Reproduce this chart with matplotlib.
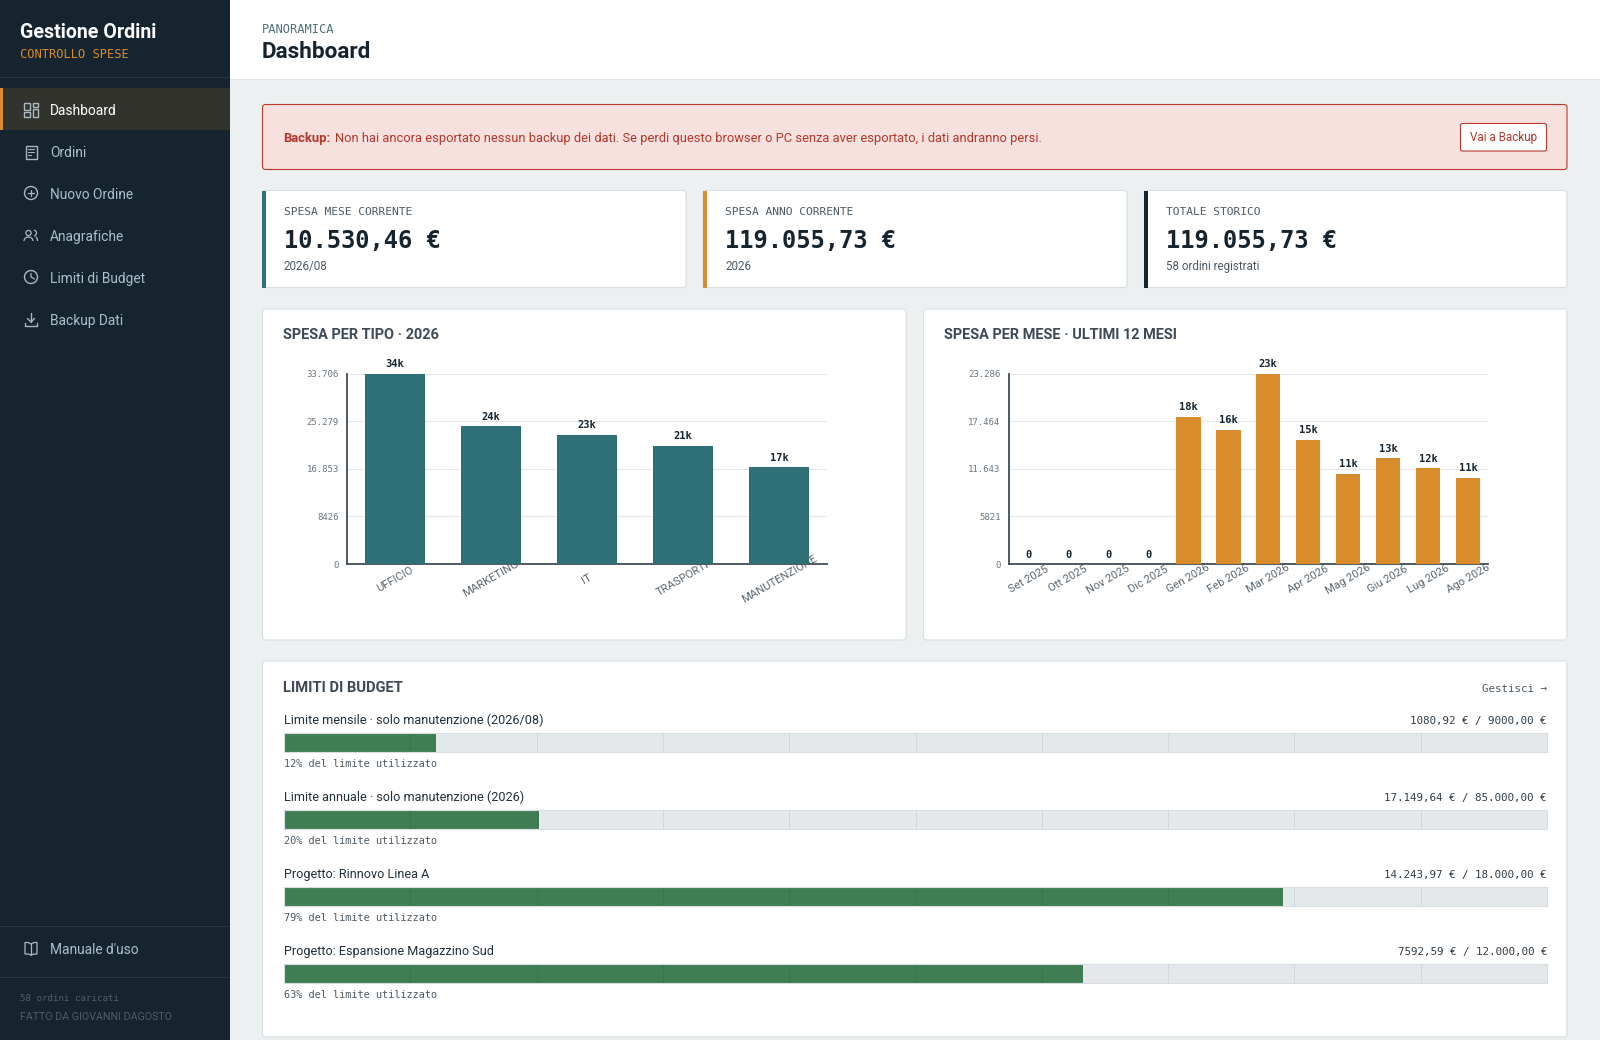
import matplotlib
matplotlib.use("Agg")
import matplotlib.pyplot as plt
from matplotlib.patches import Rectangle, FancyBboxPatch, Circle, Arc

# ---------- data ----------
type_labels = ["UFFICIO", "MARKETING", "IT", "TRASPORTI", "MANUTENZIONE"]
type_values = [33706, 24400, 22850, 20950, 17150]
type_value_labels = ["34k", "24k", "23k", "21k", "17k"]
type_ticks = [0, 8426, 16853, 25279, 33706]
type_tick_labels = ["0", "8426", "16.853", "25.279", "33.706"]

month_labels = ["Set 2025", "Ott 2025", "Nov 2025", "Dic 2025", "Gen 2026", "Feb 2026",
                "Mar 2026", "Apr 2026", "Mag 2026", "Giu 2026", "Lug 2026", "Ago 2026"]
month_values = [0, 0, 0, 0, 18000, 16400, 23286, 15200, 11050, 12900, 11690, 10530]
month_value_labels = ["0", "0", "0", "0", "18k", "16k", "23k", "15k", "11k", "13k", "12k", "11k"]
month_ticks = [0, 5821, 11643, 17464, 23286]
month_tick_labels = ["0", "5821", "11.643", "17.464", "23.286"]

budget_names = ["Limite mensile · solo manutenzione (2026/08)",
                "Limite annuale · solo manutenzione (2026)",
                "Progetto: Rinnovo Linea A",
                "Progetto: Espansione Magazzino Sud"]
budget_spent = [1080.92, 17149.64, 14243.97, 7592.59]
budget_limit = [9000, 85000, 18000, 12000]
budget_amounts = ["1080,92 € / 9000,00 €", "17.149,64 € / 85.000,00 €",
                  "14.243,97 € / 18.000,00 €", "7592,59 € / 12.000,00 €"]
budget_notes = ["12% del limite utilizzato", "20% del limite utilizzato",
                "79% del limite utilizzato", "63% del limite utilizzato"]

kpi_labels = ["SPESA MESE CORRENTE", "SPESA ANNO CORRENTE", "TOTALE STORICO"]
kpi_values = ["10.530,46 €", "119.055,73 €", "119.055,73 €"]
kpi_notes = ["2026/08", "2026", "58 ordini registrati"]

nav_labels = ["Dashboard", "Ordini", "Nuovo Ordine", "Anagrafiche", "Limiti di Budget", "Backup Dati"]

# ---------- style ----------
W, H = 1600, 1040
NAVY = "#15242f"
TEAL = "#2f6f77"
AMBER = "#d98c2b"
GREEN = "#3f7d52"
BG = "#edf0f1"
BORDER = "#d8dee2"
RED = "#c0392b"
RED_TXT = "#b5352a"
NAV_TXT = "#a9c0cc"
SANS = ["Roboto", "DejaVu Sans"]
MONO = ["DejaVu Sans Mono"]
HEAD = ["Roboto", "DejaVu Sans"]
PT = 72 / 100  # px -> pt at dpi 100

fig = plt.figure(figsize=(W / 100, H / 100), dpi=100, facecolor=BG)
bg = fig.add_axes([0, 0, 1, 1], zorder=0)
bg.set_xlim(0, W)
bg.set_ylim(H, 0)
bg.axis("off")


def rect(x0, y0, x1, y1, fc, ec="none", lw=0, ax=bg, z=1):
    ax.add_patch(Rectangle((x0, y0), x1 - x0, y1 - y0, fc=fc, ec=ec, lw=lw, zorder=z))


def rrect(x0, y0, x1, y1, fc, ec="none", lw=0.8, r=3, z=1):
    bg.add_patch(FancyBboxPatch((x0 + r, y0 + r), x1 - x0 - 2 * r, y1 - y0 - 2 * r,
                                boxstyle=f"round,pad={r},rounding_size={r}",
                                fc=fc, ec=ec, lw=lw, zorder=z))


def txt(x, y, s, size, color, family=SANS, weight="normal", ha="left", z=5):
    return bg.text(x, y, s, fontsize=size * PT, color=color, family=family, weight=weight,
                   ha=ha, va="center", zorder=z)


def line(xs, ys, color=NAV_TXT, lw=1.0, z=4):
    bg.plot(xs, ys, color=color, lw=lw, solid_capstyle="round", zorder=z)


# ---------- sidebar ----------
rect(0, 0, 230, H, NAVY)
rect(0, 76.5, 230, 77.5, "#243540", z=2)
rect(0, 925.5, 230, 926.5, "#243540", z=2)
rect(0, 976.5, 230, 977.5, "#243540", z=2)
txt(20, 32.5, "Gestione Ordini", 19.7, "#ffffff", HEAD, "bold")
txt(20, 54.5, "CONTROLLO SPESE", 12, AMBER, MONO)

rect(0, 88, 230, 130, "#33332e", z=2)
rect(0, 88, 3, 130, AMBER, z=3)
nav_y = [110 + 42 * i for i in range(len(nav_labels))]
for i, (label, y) in enumerate(zip(nav_labels, nav_y)):
    txt(50, y + 1, label, 13.7, "#ffffff" if i == 0 else NAV_TXT)

# icons
IC = "#a9b8c2"
y = nav_y[0]
for dx, dy, w, h in [(-7, -7, 5.5, 6.5), (1.5, -7, 5.5, 4), (-7, 2, 5.5, 4.5), (1.5, -1, 5.5, 7.5)]:
    bg.add_patch(Rectangle((31 + dx, y + dy), w, h, fc="none", ec=IC, lw=1.0, zorder=4))
y = nav_y[1]
bg.add_patch(Rectangle((25.5, y - 6.5), 11, 13, fc="none", ec=IC, lw=1.0, zorder=4))
for d, e in [(-3, 34), (0, 34), (3, 31)]:
    line([28, e], [y + d, y + d], IC, 0.8)
y = nav_y[2]
bg.add_patch(Circle((31, y - 1), 6.5, fc="none", ec=IC, lw=1.0, zorder=4))
line([28, 34], [y - 1, y - 1], IC, 0.9)
line([31, 31], [y - 4, y + 2], IC, 0.9)
y = nav_y[3]
bg.add_patch(Circle((28.5, y - 3), 2.6, fc="none", ec=IC, lw=0.9, zorder=4))
bg.add_patch(Arc((28.5, y + 5), 9, 8, theta1=180, theta2=360, ec=IC, lw=0.9, zorder=4))
bg.add_patch(Arc((34, y - 3), 5, 5.5, theta1=270, theta2=90, ec=IC, lw=0.9, zorder=4))
bg.add_patch(Arc((35.5, y + 5), 4, 8, theta1=270, theta2=360, ec=IC, lw=0.9, zorder=4))
y = nav_y[4]
bg.add_patch(Circle((31, y - 1), 6.5, fc="none", ec=IC, lw=1.0, zorder=4))
line([31, 31, 34.5], [y - 4.5, y - 1, y + 1], IC, 0.9)
y = nav_y[5]
line([31, 31], [y - 7, y + 2], IC, 1.0)
line([27.5, 31, 34.5], [y - 1.5, y + 2, y - 1.5], IC, 1.0)
line([25, 25, 37, 37], [y + 3, y + 6, y + 6, y + 3], IC, 1.0)

y = 949
txt(50, y + 1, "Manuale d'uso", 13.7, NAV_TXT)
line([31, 31], [y - 5, y + 6], IC, 0.9)
line([31, 28, 25, 25, 28, 31], [y - 5, y - 6.5, y - 6.5, y + 5, y + 5, y + 6], IC, 0.9)
line([31, 34, 37, 37, 34, 31], [y - 5, y - 6.5, y - 6.5, y + 5, y + 5, y + 6], IC, 0.9)
txt(20, 998.5, "58 ordini caricati", 9.1, "#4d5f6b", MONO)
txt(20, 1017.5, "FATTO DA GIOVANNI DAGOSTO", 10.6, "#4d5f6b")

# ---------- header ----------
rect(230, 0, W, 79, "#ffffff")
rect(230, 79, W, 80, "#dfe3e6", z=2)
txt(262, 29.5, "PANORAMICA", 12, "#4f7078", MONO)
txt(262, 52, "Dashboard", 22.5, NAVY, HEAD, "bold")

# ---------- alert ----------
rrect(262.5, 104.5, 1567, 169.5, "#f6e1df", RED, 0.8)
txt(283, 138.5, "Backup:", 13, RED_TXT, SANS, "bold")
txt(335, 138.5, "Non hai ancora esportato nessun backup dei dati. Se perdi questo browser "
    "o PC senza aver esportato, i dati andranno persi.", 12.9, RED_TXT)
rrect(1460.5, 123.5, 1546.5, 151, "#ffffff", RED, 0.8, r=2)
txt(1503.5, 137.5, "Vai a Backup", 11.6, RED_TXT, ha="center")

# ---------- KPI cards ----------
kpi_x = [(262, 686), (703, 1127), (1144, 1567)]
kpi_colors = [TEAL, AMBER, NAVY]
for (x0, x1), col, lab, val, note in zip(kpi_x, kpi_colors, kpi_labels, kpi_values, kpi_notes):
    rrect(x0 + .5, 190.5, x1, 287.5, "#ffffff", BORDER, 0.8)
    rect(x0, 190.5, x0 + 4, 287.5, col, z=2)
    txt(x0 + 22, 212, lab, 11.2, "#4c5964", MONO)
    txt(x0 + 22, 241, val, 23.8, NAVY, MONO, "bold")
    txt(x0 + 22, 266.5, note, 11.6, "#4c5964")

# ---------- panels ----------
rrect(262.5, 309, 906, 640, "#ffffff", BORDER, 0.8)
rrect(923.5, 309, 1567, 640, "#ffffff", BORDER, 0.8)
rrect(262.5, 661, 1567, 1037, "#ffffff", BORDER, 0.8)
txt(283, 335, "SPESA PER TIPO · 2026", 14.5, "#3d4a55", HEAD, "bold")
txt(944, 335, "SPESA PER MESE · ULTIMI 12 MESI", 14.5, "#3d4a55", HEAD, "bold")
txt(283, 688, "LIMITI DI BUDGET", 14.7, "#3d4a55", HEAD, "bold")
txt(1547, 689, "Gestisci →", 10.9, "#4c5964", MONO, ha="right")


def px_axes(x0, y0, x1, y1, z=3):
    return fig.add_axes([x0 / W, 1 - y1 / H, (x1 - x0) / W, (y1 - y0) / H], zorder=z)


def bar_chart(x0, x1, labels, values, value_labels, ticks, tick_labels, color, width_px):
    y0, y1 = 373.5, 564
    ax = px_axes(x0, y0, x1, y1)
    ax.patch.set_alpha(0)
    n = len(labels)
    step = (x1 - x0) / n
    xs = list(range(n))
    ax.bar(xs, values, width=width_px / step, color=color, zorder=3)
    ax.set_xlim(-0.5, n - 0.5)
    ax.set_ylim(0, ticks[-1])
    ax.set_yticks(ticks, tick_labels, family=MONO, fontsize=9 * PT, color="#6a7680")
    ax.set_xticks(xs, labels, family=SANS, fontsize=11.2 * PT, color="#5a6670",
                  rotation=30, ha="center", va="center", rotation_mode="anchor")
    ax.tick_params(axis="x", length=0, pad=15 * PT)
    ax.tick_params(axis="y", length=0, pad=8 * PT)
    ax.grid(axis="y", color="#e3e6ea", lw=1.1 * PT, zorder=1)
    ax.set_axisbelow(True)
    for s in ("top", "right"):
        ax.spines[s].set_visible(False)
    for s in ("left", "bottom"):
        ax.spines[s].set_color("#3f4b55")
        ax.spines[s].set_linewidth(1.8 * PT)
    for x, v, s in zip(xs, values, value_labels):
        ax.annotate(s, (x, v), xytext=(0, 9.5 * PT), textcoords="offset points",
                    ha="center", va="center", family=MONO, weight="bold",
                    fontsize=10.4 * PT, color=NAVY, zorder=5, annotation_clip=False)
    return ax


bar_chart(347, 827, type_labels, type_values, type_value_labels, type_ticks, type_tick_labels, TEAL, 60)
bar_chart(1008.5, 1488, month_labels, month_values, month_value_labels, month_ticks, month_tick_labels, AMBER, 24.5)

# ---------- budget bars ----------
for i, (name, spent, limit, amount, note) in enumerate(
        zip(budget_names, budget_spent, budget_limit, budget_amounts, budget_notes)):
    off = 77 * i
    txt(283.5, 720.5 + off, name, 12.6, "#20303b")
    txt(1547, 721 + off, amount, 10.85, "#2f3c47", MONO, ha="right")
    txt(283.5, 764 + off, note, 10.25, "#4c5964", MONO)
    ax = px_axes(284, 733 + off, 1547, 752 + off)
    ax.set_facecolor("#e5e8eb")
    ax.barh(0, spent / limit * 100, height=1, color=GREEN, zorder=2)
    ax.set_xlim(0, 100)
    ax.set_ylim(-0.5, 0.5)
    ax.vlines(range(10, 100, 10), -0.5, 0.5, color="#000000", alpha=0.07, lw=1 * PT, zorder=3)
    ax.set_xticks([])
    ax.set_yticks([])
    for s in ax.spines.values():
        s.set_color("#d8dde1")
        s.set_linewidth(0.8)

fig.savefig("out.png", dpi=100, facecolor=BG)
